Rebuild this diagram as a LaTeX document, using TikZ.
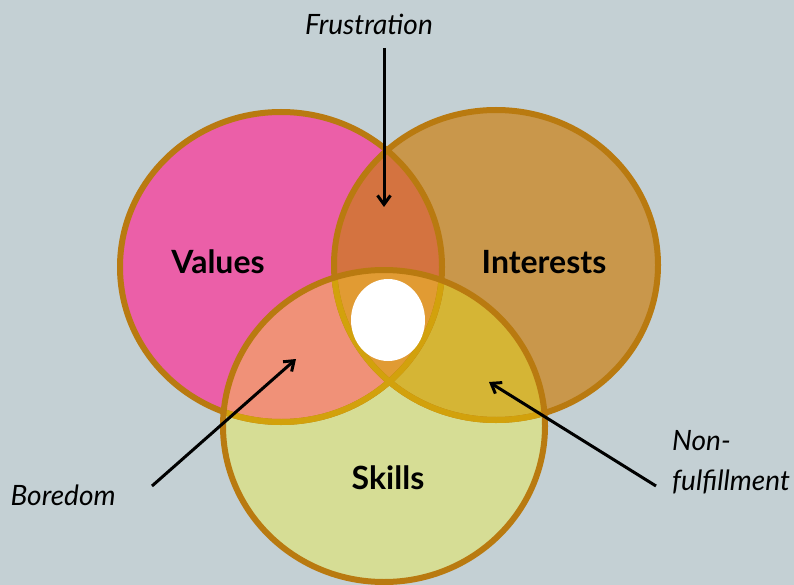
\documentclass[tikz,border=0pt]{standalone}
\usepackage{fontspec}
\setmainfont{Lato}
\usepackage{tikz}
\usepackage{xcolor}
\usetikzlibrary{arrows.meta}

\definecolor{bgcol}{HTML}{C4D0D4}
\definecolor{valcol}{HTML}{EB5FA8}
\definecolor{intcol}{HTML}{C9974B}
\definecolor{skicol}{HTML}{D6DD95}
\definecolor{vicol}{HTML}{D47340}
\definecolor{vscol}{HTML}{F09178}
\definecolor{iscol}{HTML}{D5B535}
\definecolor{allcol}{HTML}{E19B33}
\definecolor{ringdark}{HTML}{B97A10}
\definecolor{ringgold}{HTML}{D2A10C}

\begin{document}
\begin{tikzpicture}[x=1pt,y=-1pt,
    ring/.style={line width=6pt, draw=ringdark},
    setname/.style={font=\fontsize{32}{36}\selectfont\bfseries},
    lbl/.style={font=\fontsize{28}{40}\selectfont\itshape, align=left},
    pointer/.style={-{Straight Barb[length=9pt,width=13pt,line width=3pt]}, line width=3pt}]
                \fill[bgcol] (0,0) rectangle (794,585);
                \useasboundingbox (0,0) rectangle (794,585);
                \coordinate (val) at (281,267);
                \coordinate (int) at (496,265);
                \coordinate (ski) at (384,426);
                % the three sets
                \fill[valcol] (val) ellipse [x radius=161pt, y radius=155pt];
                \fill[intcol] (int) ellipse [x radius=162pt, y radius=155pt];
                \fill[skicol] (ski) ellipse [x radius=161pt, y radius=156pt];
                % overlaps
                \begin{scope}
                    \clip (val) ellipse [x radius=161pt, y radius=155pt];
                    \fill[vicol] (int) ellipse [x radius=162pt, y radius=155pt];
                    \fill[vscol] (ski) ellipse [x radius=161pt, y radius=156pt];
                \end{scope}
                \begin{scope}
                    \clip (int) ellipse [x radius=162pt, y radius=155pt];
                    \fill[iscol] (ski) ellipse [x radius=161pt, y radius=156pt];
                \end{scope}
                \begin{scope}
                    \clip (val) ellipse [x radius=161pt, y radius=155pt];
                    \clip (int) ellipse [x radius=162pt, y radius=155pt];
                    \fill[allcol] (ski) ellipse [x radius=161pt, y radius=156pt];
                \end{scope}
                % borders
                \draw[ring] (val) ellipse [x radius=161pt, y radius=155pt];
                \draw[ring] (int) ellipse [x radius=162pt, y radius=155pt];
                \begin{scope}
                    \clip (ski) ellipse [x radius=161pt, y radius=156pt];
                    \draw[ring, draw=ringgold] (val) ellipse [x radius=161pt, y radius=155pt];
                    \draw[ring, draw=ringgold] (int) ellipse [x radius=162pt, y radius=155pt];
                \end{scope}
                \draw[ring] (ski) ellipse [x radius=161pt, y radius=156pt];
                \fill[white] (388,320) ellipse [x radius=37pt, y radius=41pt];
                % names
                \node[setname] (values) at (218,262) {Values};
                \node[setname] (interests) at (544,262) {Interests};
                \node[setname] (skills) at (388,478) {Skills};
                % pointers
                \node[lbl] (frust) at (369,24) {Frustration};
                \node[lbl, anchor=west] (bored) at (7,495) {Boredom};
                \node[lbl, anchor=west, inner sep=0pt] (nonful) at (672,462) {Non-\\fulfillment};
                \coordinate (frusttail) at (384,48);
                \coordinate (frusthead) at (384,207);
                \coordinate (boredtail) at (152,486);
                \coordinate (boredhead) at (296,359);
                \coordinate (nonfultail) at (656,486);
                \coordinate (nonfulhead) at (489,382);
                \draw[pointer] (frusttail) -- (frusthead);
                \draw[pointer] (boredtail) -- (boredhead);
                \draw[pointer] (nonfultail) -- (nonfulhead);
            \end{tikzpicture}
\end{document}
